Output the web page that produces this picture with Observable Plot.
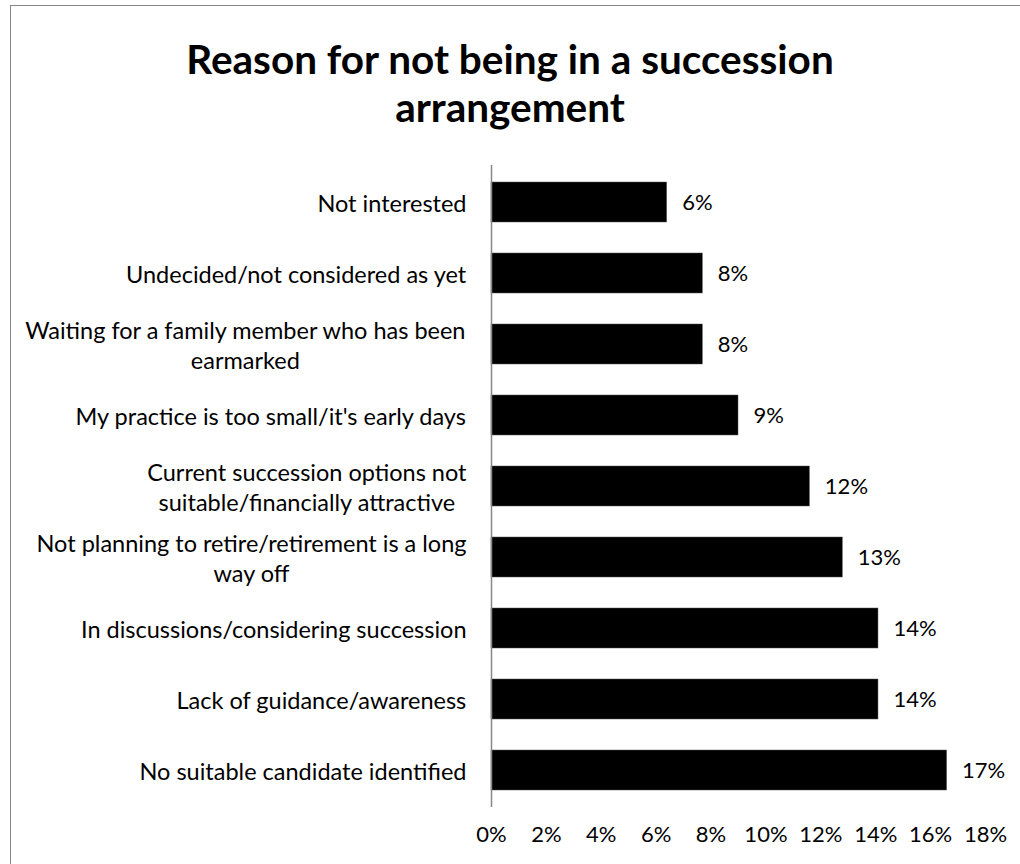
<!DOCTYPE html>
<html>
<head>
<meta charset="utf-8">
<script src="https://cdn.jsdelivr.net/npm/d3@7"></script>
<script src="https://cdn.jsdelivr.net/npm/@observablehq/plot@0.6"></script>
<style>
  html, body { margin: 0; padding: 0; background: #fff; }
  body { width: 1020px; height: 864px; position: relative; overflow: hidden; font-family: Lato, "Open Sans", sans-serif; }
  #frame { position: absolute; left: 10px; top: 5px; width: 1100px; height: 1000px; border: 1px solid #878787; box-sizing: border-box; }
  #title { position: absolute; left: 0; top: 0; width: 1020px; height: 132px; box-sizing: border-box; padding-top: 35px; text-align: center; font-weight: bold; font-size: 40.5px; line-height: 48px; color: #000; }
  #chart { position: absolute; left: 0; top: 132px; }
  #chart svg { display: block; }
</style>
</head>
<body>
<div id="frame"></div>
<div id="title">Reason for not being in a succession<br>arrangement</div>
<div id="chart"></div>
<script>
// Categories, top to bottom
const categories = [
  "Not interested",
  "Undecided/not considered as yet",
  "Waiting for a family member who has been\nearmarked",
  "My practice is too small/it's early days",
  "Current succession options not\nsuitable/financially attractive",
  "Not planning to retire/retirement is a long\nway off",
  "In discussions/considering succession",
  "Lack of guidance/awareness",
  "No suitable candidate identified"
];
// Share of respondents (%)
const values = [6.4, 7.7, 7.7, 9.0, 11.6, 12.8, 14.1, 14.1, 16.6];
// Data labels as printed
const valueLabels = ["6%", "8%", "8%", "9%", "12%", "13%", "14%", "14%", "17%"];
// Axis ticks
const ticks = [0, 2, 4, 6, 8, 10, 12, 14, 16, 18];

const data = categories.map((c, i) => ({category: c, value: values[i], label: valueLabels[i]}));

const FONT = "Lato";
const FS = 22;
const CAT_FS = 23.5;
const ctx = document.createElement("canvas").getContext("2d");
ctx.font = `${CAT_FS}px ${FONT}`;
const blockWidth = s => Math.max(...s.split("\n").map(l => ctx.measureText(l).width));
const GAP = 25;

const labelMarks = categories.map(c =>
  Plot.text([c], {
    x: () => 0,
    y: d => d,
    text: d => d,
    textAnchor: "middle",
    lineAnchor: "middle",
    lineHeight: 1.28,
    dx: -(GAP + blockWidth(c) / 2),
    fontSize: CAT_FS,
    fill: "#000"
  })
);

const chart = Plot.plot({
  width: 1020,
  height: 732,
  marginTop: 33,
  marginBottom: 57,
  marginLeft: 491,
  marginRight: 35,
  style: {fontFamily: FONT, fontSize: FS + "px", color: "#000", background: "transparent"},
  x: {domain: [0, 18], axis: null},
  y: {domain: categories, axis: null, paddingInner: 0.44, paddingOuter: 0.22},
  marks: [
    Plot.barX(data, {x: "value", y: "category", fill: "#000", stroke: "#555", strokeWidth: 0.5}),
    Plot.text(data, {x: "value", y: "category", text: "label", textAnchor: "start", dx: 15, fontSize: FS, fill: "#000"}),
    ...labelMarks,
    Plot.ruleX([0], {stroke: "#878787", strokeWidth: 1.5}),
    Plot.axisX({ticks, tickFormat: d => d + "%", tickSize: 0, tickPadding: 19, fontSize: FS, fill: "#000", label: null})
  ]
});
document.getElementById("chart").appendChild(chart);
</script>
</body>
</html>
